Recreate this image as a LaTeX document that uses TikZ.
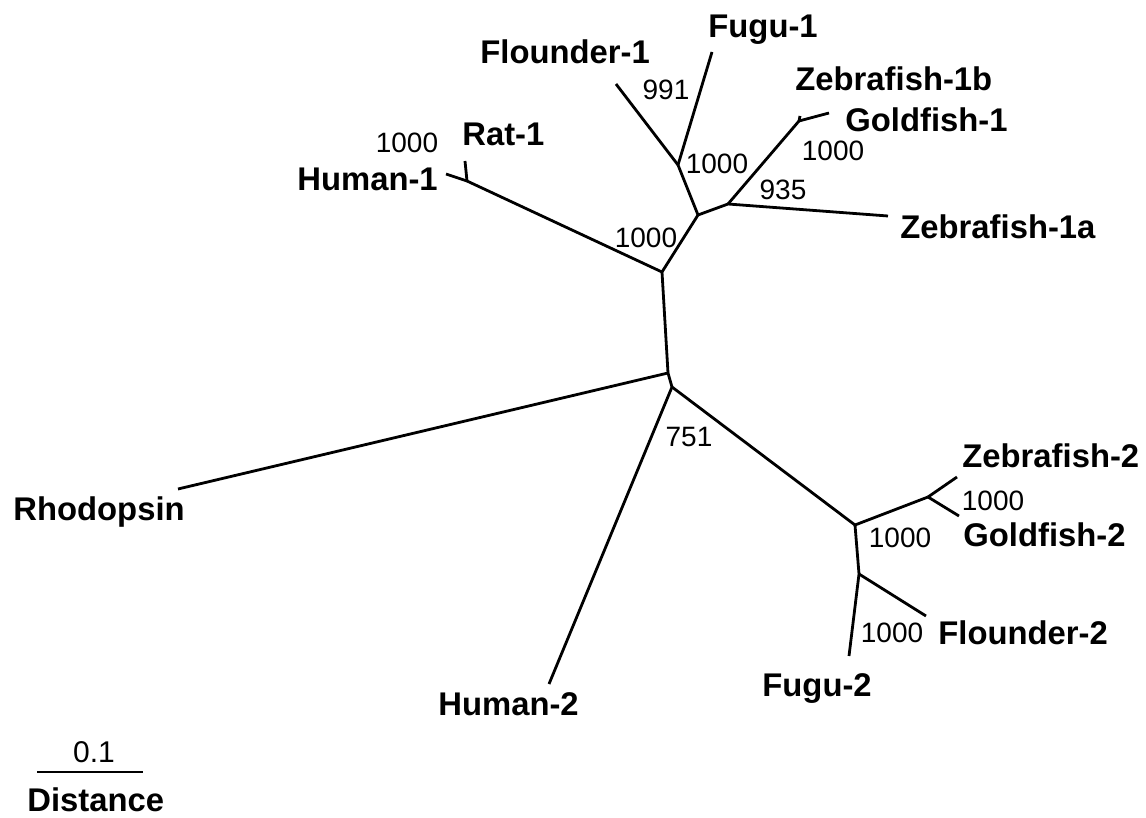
\documentclass[tikz,border=0pt]{standalone}
\usepackage{fontspec}
\setmainfont{Liberation Sans}
\begin{document}
\begin{tikzpicture}[x=0.5pt,y=-0.5pt,
  branch/.style={line width=1.4pt,line join=round},
  taxon/.style={font=\fontsize{16.4}{18}\selectfont\bfseries,anchor=base west,inner sep=0pt},
  boot/.style={font=\fontsize{14}{15}\selectfont,inner sep=0pt},
  scalelbl/.style={font=\fontsize{15}{17}\selectfont,inner sep=0pt}]
\useasboundingbox (0,0) rectangle (1146,818);

% internal nodes
\coordinate (r1) at (668,373);
\coordinate (r2) at (672,387);
\coordinate (a)  at (662,272);
\coordinate (hr) at (467,181);
\coordinate (b)  at (698,215);
\coordinate (h)  at (678,165);
\coordinate (c)  at (728,204);
\coordinate (g)  at (799,121);
\coordinate (d)  at (855,525);
\coordinate (e)  at (928,497);
\coordinate (f)  at (859,574);

% leaves
\coordinate (human1) at (446,174);
\coordinate (rat1)   at (465,161);
\coordinate (floun1) at (616,84);
\coordinate (fugu1)  at (712,52);
\coordinate (zf1b)   at (800,116);
\coordinate (gold1)  at (829,113);
\coordinate (zf1a)   at (888,216);
\coordinate (rhod)   at (178,489);
\coordinate (human2) at (549,684);
\coordinate (zf2)    at (957,477);
\coordinate (gold2)  at (959,516);
\coordinate (floun2) at (926,616);
\coordinate (fugu2)  at (849,656);

% branches
\draw[branch] (r1) -- (a);
\draw[branch] (r1) -- (r2);
\draw[branch] (r1) -- (rhod);
\draw[branch] (r2) -- (human2);
\draw[branch] (r2) -- (d);
\draw[branch] (a) -- (hr);
\draw[branch] (hr) -- (human1);
\draw[branch] (hr) -- (rat1);
\draw[branch] (a) -- (b);
\draw[branch] (b) -- (h);
\draw[branch] (h) -- (floun1);
\draw[branch] (h) -- (fugu1);
\draw[branch] (b) -- (c);
\draw[branch] (c) -- (g);
\draw[branch] (g) -- (zf1b);
\draw[branch] (g) -- (gold1);
\draw[branch] (c) -- (zf1a);
\draw[branch] (d) -- (e);
\draw[branch] (e) -- (zf2);
\draw[branch] (e) -- (gold2);
\draw[branch] (d) -- (f);
\draw[branch] (f) -- (floun2);
\draw[branch] (f) -- (fugu2);

% taxon labels
\node[taxon] (tfugu1)  at (708,38)  {Fugu-1};
\node[taxon] (tfloun1) at (480,64)  {Flounder-1};
\node[taxon] (tzf1b)   at (795,91)  {Zebrafish-1b};
\node[taxon] (tgold1)  at (845,132) {Goldfish-1};
\node[taxon] (trat1)   at (462,146) {Rat-1};
\node[taxon] (thuman1) at (297,191) {Human-1};
\node[taxon] (tzf1a)   at (900,239) {Zebrafish-1a};
\node[taxon] (trhod)   at (13,520)  {Rhodopsin};
\node[taxon] (tzf2)    at (962,467) {Zebrafish-2};
\node[taxon] (tgold2)  at (963,546) {Goldfish-2};
\node[taxon] (tfloun2) at (938,644) {Flounder-2};
\node[taxon] (tfugu2)  at (762,696) {Fugu-2};
\node[taxon] (thuman2) at (438,715) {Human-2};

% bootstrap values
\node[boot] (bs1)  at (666,90)  {991};
\node[boot] (bs2)  at (407,143) {1000};
\node[boot] (bs3)  at (717,164) {1000};
\node[boot] (bs4)  at (833,151) {1000};
\node[boot] (bs5)  at (783,190) {935};
\node[boot] (bs6)  at (646,238) {1000};
\node[boot] (bs7)  at (689,437) {751};
\node[boot] (bs8)  at (900,538) {1000};
\node[boot] (bs9)  at (993,501) {1000};
\node[boot] (bs10) at (892,633) {1000};

% scale bar
\coordinate (sbl) at (37,772);
\coordinate (sbr) at (143,772);
\draw[branch] (sbl) -- (sbr);
\node[scalelbl] (sbval) at (94,752) {0.1};
\node[taxon] (sbname) at (27,811) {Distance};
\end{tikzpicture}
\end{document}
